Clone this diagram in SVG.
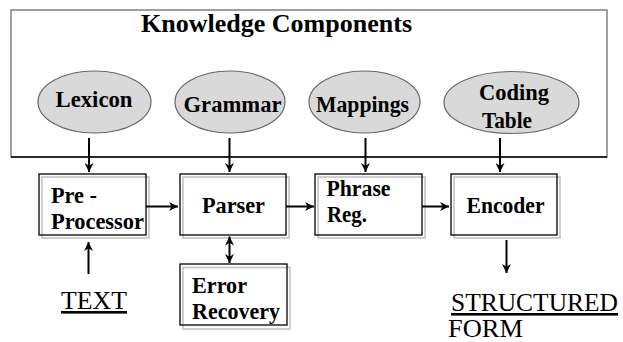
<svg xmlns="http://www.w3.org/2000/svg" width="623" height="342" viewBox="0 0 623 342">
  <defs>
    <marker id="arrow" viewBox="0 0 10 10" refX="10" refY="5" markerWidth="9" markerHeight="9" markerUnits="userSpaceOnUse" orient="auto-start-reverse">
      <path d="M0,0 L10,5 L0,10 L3,5 z" fill="#000"/>
    </marker>
  </defs>
  <style>
    text { font-family: "Liberation Serif", "Times New Roman", serif; fill: #000; }
    .lbl { font-weight: bold; font-size: 23px; }
    .title { font-weight: bold; font-size: 25px; }
    .io { font-size: 26px; text-decoration: underline; }
    .io2 { font-size: 26px; }
    .kc { fill: #d9d9d9; stroke: #666; stroke-width: 1.2; }
    .box { fill: none; stroke: #000; stroke-width: 1.3; }
    .shadow { fill: none; stroke: #c4c4c4; stroke-width: 1.6; }
    .conn { stroke: #000; stroke-width: 2; fill: none; }
  </style>

  <rect width="623" height="342" fill="#fff"/>

  <!-- knowledge components frame -->
  <g id="knowledge">
    <rect x="11" y="10" width="596" height="147" fill="none" stroke="#777" stroke-width="1.4"/>
    <line x1="11" y1="157" x2="607" y2="157" stroke="#000" stroke-width="1.6"/>
    <text class="title" x="141" y="32" textLength="271" lengthAdjust="spacingAndGlyphs">Knowledge Components</text>
  </g>

  <g id="lexicon">
    <ellipse class="kc" cx="94.5" cy="102" rx="56.5" ry="31"/>
    <text class="lbl" x="55.5" y="107" textLength="77" lengthAdjust="spacingAndGlyphs">Lexicon</text>
  </g>
  <g id="grammar">
    <ellipse class="kc" cx="230" cy="102" rx="55" ry="31"/>
    <text class="lbl" x="183.5" y="111.5" textLength="98" lengthAdjust="spacingAndGlyphs">Grammar</text>
  </g>
  <g id="mappings">
    <ellipse class="kc" cx="364.5" cy="102" rx="55.5" ry="31"/>
    <text class="lbl" x="316" y="111.5" textLength="93" lengthAdjust="spacingAndGlyphs">Mappings</text>
  </g>
  <g id="coding-table">
    <ellipse class="kc" cx="511.5" cy="102.5" rx="67.5" ry="31"/>
    <text class="lbl" x="479" y="100" textLength="70" lengthAdjust="spacingAndGlyphs">Coding</text>
    <text class="lbl" x="482" y="128" textLength="50" lengthAdjust="spacingAndGlyphs">Table</text>
  </g>

  <!-- processing stages -->
  <g id="preprocessor">
    <rect class="shadow" x="42" y="177" width="107" height="61"/>
    <rect class="box" x="39" y="174" width="107" height="61"/>
    <text class="lbl" x="51" y="203" textLength="46" lengthAdjust="spacingAndGlyphs">Pre -</text>
    <text class="lbl" x="51" y="229" textLength="93" lengthAdjust="spacingAndGlyphs">Processor</text>
  </g>
  <g id="parser">
    <rect class="shadow" x="183" y="177" width="106" height="61"/>
    <rect class="box" x="180" y="174" width="106" height="61"/>
    <text class="lbl" x="202" y="213" textLength="63" lengthAdjust="spacingAndGlyphs">Parser</text>
  </g>
  <g id="phrase-reg">
    <rect class="shadow" x="318" y="177" width="107" height="61"/>
    <rect class="box" x="315" y="174" width="107" height="61"/>
    <text class="lbl" x="326.5" y="196" textLength="64" lengthAdjust="spacingAndGlyphs">Phrase</text>
    <text class="lbl" x="327" y="222" textLength="40" lengthAdjust="spacingAndGlyphs">Reg.</text>
  </g>
  <g id="encoder">
    <rect class="shadow" x="454" y="177" width="106" height="61"/>
    <rect class="box" x="451" y="174" width="106" height="61"/>
    <text class="lbl" x="466.5" y="213" textLength="78" lengthAdjust="spacingAndGlyphs">Encoder</text>
  </g>
  <g id="error-recovery">
    <rect class="shadow" x="183" y="267.5" width="107" height="61.5"/>
    <rect class="box" x="180" y="264" width="107" height="61"/>
    <text class="lbl" x="192" y="293" textLength="55" lengthAdjust="spacingAndGlyphs">Error</text>
    <text class="lbl" x="192" y="319" textLength="88" lengthAdjust="spacingAndGlyphs">Recovery</text>
  </g>

  <!-- input / output -->
  <g id="text-input">
    <text class="io" x="61" y="309" textLength="66" lengthAdjust="spacingAndGlyphs">TEXT</text>
  </g>
  <g id="structured-form">
    <text class="io" x="451" y="311" textLength="167" lengthAdjust="spacingAndGlyphs">STRUCTURED</text>
    <text class="io2" x="448" y="337" textLength="75" lengthAdjust="spacingAndGlyphs">FORM</text>
  </g>

  <!-- connectors -->
  <g id="connectors">
    <line class="conn" x1="89" y1="138" x2="89" y2="172" marker-end="url(#arrow)"/>
    <line class="conn" x1="229.5" y1="138" x2="229.5" y2="172" marker-end="url(#arrow)"/>
    <line class="conn" x1="365.5" y1="138" x2="365.5" y2="172" marker-end="url(#arrow)"/>
    <line class="conn" x1="500" y1="138" x2="500" y2="172" marker-end="url(#arrow)"/>
    <line class="conn" x1="146" y1="206.5" x2="178" y2="206.5" marker-end="url(#arrow)"/>
    <line class="conn" x1="286" y1="206.5" x2="314" y2="206.5" marker-end="url(#arrow)"/>
    <line class="conn" x1="422" y1="206.5" x2="449" y2="206.5" marker-end="url(#arrow)"/>
    <line class="conn" x1="229.5" y1="236.5" x2="229.5" y2="263" marker-start="url(#arrow)" marker-end="url(#arrow)"/>
    <line class="conn" x1="88.5" y1="274" x2="88.5" y2="242" marker-end="url(#arrow)"/>
    <line class="conn" x1="506.5" y1="240" x2="506.5" y2="273" marker-end="url(#arrow)"/>
  </g>
</svg>
